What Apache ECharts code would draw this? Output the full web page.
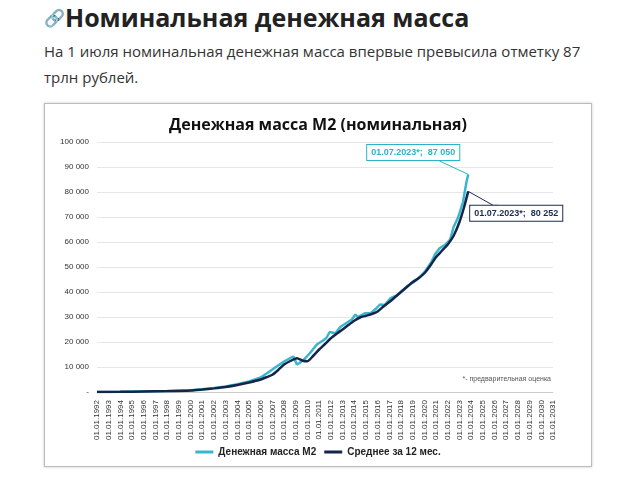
<!DOCTYPE html>
<html><head><meta charset="utf-8">
<script src="https://cdn.jsdelivr.net/npm/echarts@6/dist/echarts.min.js"></script>
<style>
body{margin:0;background:#fff;font-family:"Open Sans","Noto Sans",sans-serif;}
#h{position:absolute;left:44px;top:0px;font-size:25px;font-weight:bold;color:#222;}
#h span{font-size:17px;color:#777;font-weight:normal;vertical-align:3px;}
#p{position:absolute;left:44px;top:38px;width:540px;font-size:15px;line-height:26px;color:#333;}
#box{position:absolute;left:44px;top:103px;width:546px;height:362px;border:1px solid #bbb;box-shadow:0 0 3px #ccc;}
#c{width:546px;height:362px;}
</style></head><body>
<div id="h"><span>🔗</span>Номинальная денежная масса</div>
<div id="p">На 1 июля номинальная денежная масса впервые превысила отметку 87 трлн рублей.</div>
<div id="box"><div id="c"></div></div>
<script>
const m2X = [1992,1994,1996,1998,2000,2001,2002,2003,2004,2005,2006,2006.7,2007.3,2008,2008.5,2008.8,2009.1,2009.3,2009.7,2010.2,2010.8,2011.3,2011.6,2011.9,2012.4,2012.8,2013.3,2013.8,2014.1,2014.3,2014.9,2015.4,2015.9,2016.2,2016.6,2017.1,2017.6,2018.1,2018.6,2019.1,2019.6,2020.1,2020.6,2020.9,2021.3,2021.8,2022.2,2022.5,2022.9,2023.3,2023.6,2023.75];
const m2Y = [0,100,250,400,700,1100,1600,2200,3100,4200,5800,8000,10000,12200,13500,14200,11000,11500,13000,15500,19000,20500,21500,24000,23500,26000,27500,29000,31000,30000,31500,31500,33500,35000,34800,37500,38500,40500,42500,44000,46000,48500,52000,55000,57500,59000,61000,66000,70000,76000,84000,87050];
const avgX = [1992,1994,1996,1998,2000,2001,2002,2003,2004,2005,2006,2006.5,2007,2007.5,2008,2008.5,2009.1,2009.6,2010,2010.5,2011,2011.5,2012,2012.5,2013,2013.5,2014,2014.5,2015,2015.5,2016,2016.5,2017,2017.5,2018,2018.5,2019,2019.5,2020,2020.5,2021,2021.5,2022,2022.5,2023,2023.4,2023.75];
const avgY = [0,80,200,350,600,1000,1450,2000,2800,3800,5000,5900,6900,8800,11000,12300,13500,12500,12300,14500,17000,19200,21500,23300,25000,26800,28500,29800,30500,31200,32200,34200,36000,38000,40000,42000,44000,45500,47500,50500,54000,56500,59000,62500,68000,74000,80252];
const pts=(xs,ys)=>xs.map((x,i)=>[x,ys[i]]);
const m2 = pts(m2X,m2Y), avg = pts(avgX,avgY);
const m2Last = m2[m2.length-1], avgLast = avg[avg.length-1];
const lbl = (c)=>({show:true,color:c,borderColor:c,borderWidth:1,backgroundColor:'#fff',padding:[3,4],fontSize:9,fontWeight:'bold'});
const ch = echarts.init(document.getElementById('c'));
ch.setOption({
 title:{text:'Денежная масса М2 (номинальная)',left:'center',top:8,textStyle:{fontSize:16,fontWeight:'bold',color:'#111',fontFamily:'Open Sans'}},
 legend:{bottom:4,itemWidth:18,itemHeight:3,icon:'rect',textStyle:{fontSize:10,fontWeight:'bold',color:'#222'},data:['Денежная масса М2','Среднее за 12 мес.']},
 grid:{left:52,right:38,top:38,bottom:74},
 xAxis:{type:'value',min:1992,max:2031,interval:1,axisLine:{lineStyle:{color:'#ccc'}},axisTick:{show:false},splitLine:{show:false},
   axisLabel:{rotate:90,fontSize:8,color:'#333',formatter:v=>'01.01.'+v}},
 yAxis:{type:'value',min:0,max:100000,interval:10000,axisLine:{show:false},axisTick:{show:false},
   splitLine:{lineStyle:{color:'#e6e6e6'}},axisLabel:{fontSize:8,color:'#333',formatter:v=>v===0?'-':String(v).replace(/(\d)(?=(\d{3})+$)/g,'$1 ')}},
 series:[
  {name:'Денежная масса М2',type:'line',data:m2,showSymbol:false,lineStyle:{width:2.5,color:'#38b6d0'},itemStyle:{color:'#38b6d0'},z:2,
   markPoint:{symbol:'circle',symbolSize:0,data:[{coord:m2Last,label:Object.assign(lbl('#2bb3c9'),{formatter:'01.07.2023*;  87 050',offset:[-55,-22]})}]}},
  {name:'Среднее за 12 мес.',type:'line',data:avg,showSymbol:false,smooth:0.2,lineStyle:{width:2.5,color:'#15254a'},itemStyle:{color:'#15254a'},z:3,
   markPoint:{symbol:'circle',symbolSize:0,data:[{coord:avgLast,label:Object.assign(lbl('#1a2a50'),{formatter:'01.07.2023*;  80 252',offset:[48,22]})}]}}
 ]
});
const pA = ch.convertToPixel({gridIndex:0}, m2Last), pB = ch.convertToPixel({gridIndex:0}, avgLast);
ch.setOption({graphic:[
 {type:'text',right:40,top:272,style:{text:'*- предварительная оценка',fontSize:7,fill:'#555'}},
 {type:'polyline',shape:{points:[pA,[pA[0]-30,pA[1]-14]]},style:{stroke:'#2bb3c9',lineWidth:1}},
 {type:'polyline',shape:{points:[pB,[pB[0]+25,pB[1]+14],[pB[0]+30,pB[1]+14]]},style:{stroke:'#1a2a50',lineWidth:1}}
]});
</script></body></html>
